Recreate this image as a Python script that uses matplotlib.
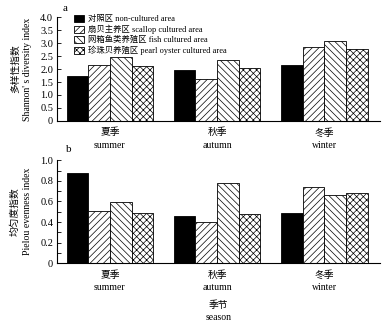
import matplotlib
matplotlib.use("Agg")
import numpy as np
import matplotlib.pyplot as plt
from matplotlib.ticker import MultipleLocator

plt.rcParams['font.family'] = ['Liberation Serif', 'Noto Sans CJK SC']
plt.rcParams['hatch.linewidth'] = 0.5

seasons = ["夏季\nsummer", "秋季\nautumn", "冬季\nwinter"]
areas = ["对照区 non-cultured area",
         "扇贝主养区 scallop cultured area",
         "网箱鱼类养殖区 fish cultured area",
         "珍珠贝养殖区 pearl oyster cultured area"]

# Shannon diversity per season, one list per area
shannon_ctrl = [1.74, 1.97, 2.17]
shannon_scallop = [2.16, 1.60, 2.87]
shannon_fish = [2.47, 2.34, 3.10]
shannon_pearl = [2.11, 2.05, 2.79]

# Pielou evenness per season
pielou_ctrl = [0.88, 0.46, 0.49]
pielou_scallop = [0.51, 0.40, 0.74]
pielou_fish = [0.59, 0.78, 0.66]
pielou_pearl = [0.49, 0.48, 0.68]

styles = [dict(color='black', edgecolor='black'),
          dict(color='white', edgecolor='black', hatch='/////'),
          dict(color='white', edgecolor='black', hatch='\\\\\\\\\\'),
          dict(color='white', edgecolor='black', hatch='xxxxx')]

fig = plt.figure(figsize=(3.85, 3.23), dpi=100)
axA = fig.add_axes([0.149, 0.626, 0.838, 0.320])
axB = fig.add_axes([0.149, 0.185, 0.838, 0.319])

x = np.arange(len(seasons))
w = 0.2022
offs = (np.arange(4) - 1.5) * w


def draw(ax, series, ylim, major, minor, ylab):
    bars = []
    for k, vals in enumerate(series):
        b = ax.bar(x + offs[k], vals, w, linewidth=0.6, **styles[k])
        bars.append(b)
    ax.set_xlim(-0.49, 2.52)
    ax.set_ylim(*ylim)
    ax.yaxis.set_major_locator(MultipleLocator(major))
    ax.yaxis.set_minor_locator(MultipleLocator(minor))
    ax.spines['top'].set_visible(False)
    ax.spines['right'].set_visible(False)
    ax.spines['left'].set_linewidth(0.8)
    ax.spines['bottom'].set_linewidth(0.8)
    ax.set_xticks(x)
    ax.set_xticklabels(seasons, fontsize=7, linespacing=1.5)
    ax.tick_params(axis='x', length=0, pad=5)
    ax.tick_params(axis='y', which='both', direction='in', labelsize=7.5,
                   width=0.6, length=3, pad=3)
    ax.set_ylabel(ylab, fontsize=7, linespacing=1.45, labelpad=6)
    return bars


bars = draw(axA, [shannon_ctrl, shannon_scallop, shannon_fish, shannon_pearl],
            (0, 4.0), 0.5, 0.5, "多样性指数\nShannon' s diversity index")
axA.set_yticklabels(["0" if t == 0 else f"{t:.1f}" for t in axA.get_yticks()])

draw(axB, [pielou_ctrl, pielou_scallop, pielou_fish, pielou_pearl],
     (0, 1.0), 0.2, 0.1, "均匀度指数\nPielou evenness index")
axB.set_yticklabels(["0" if t == 0 else f"{t:.1f}" for t in axB.get_yticks()])
axB.set_xlabel("季节\nseason", fontsize=7, linespacing=1.35, labelpad=6)

axA.legend(bars, areas, loc='upper left', bbox_to_anchor=(0.04, 1.055),
           fontsize=6, frameon=False, handlelength=1.3, handleheight=0.9,
           handletextpad=0.4, labelspacing=0.18, borderaxespad=0)

fig.text(0.163, 0.965, "a", fontsize=8)
fig.text(0.172, 0.528, "b", fontsize=8)

fig.savefig("out.png", dpi=100)
